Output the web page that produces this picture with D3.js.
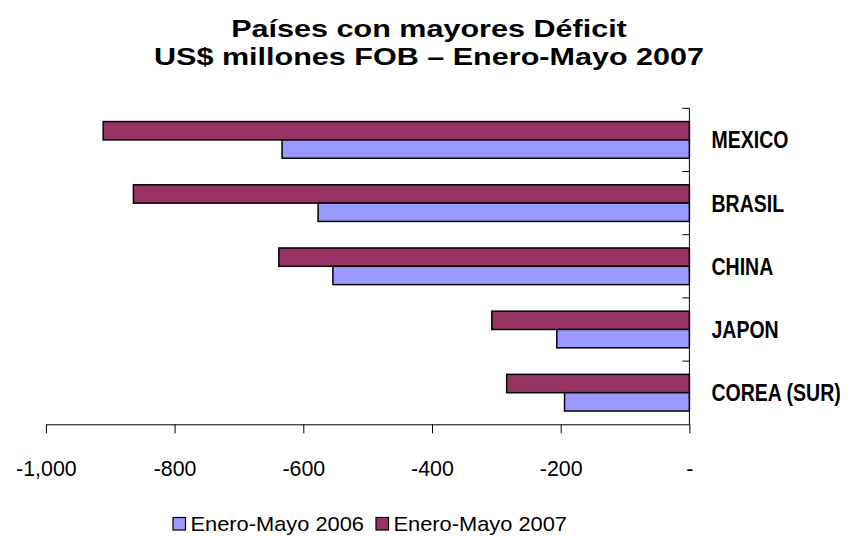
<!DOCTYPE html>
<html><head><meta charset="utf-8">
<script src="https://cdn.jsdelivr.net/npm/d3@7/dist/d3.min.js"></script>
<style>body{margin:0;background:#fff}</style>
</head><body>
<svg id="c" width="853" height="536"></svg>
<script>
const categories = ["MEXICO","BRASIL","CHINA","JAPON","COREA (SUR)"];
const series = ["Enero-Mayo 2006","Enero-Mayo 2007"];
const v2006 = [-633, -577, -554, -206, -194];
const v2007 = [-911, -864, -638, -307, -284];
const xTicks = [-1000,-800,-600,-400,-200,0];
const colors = ["#9999FF","#993366"];
const titleLines = ["Países con mayores Déficit","US$ millones FOB – Enero-Mayo 2007"];

const svg = d3.select("#c");
const font = "'Liberation Sans',Arial,sans-serif";
const x = d3.scaleLinear().domain([-1000,0]).range([45.9,689.4]);
const y = d3.scaleBand().domain(categories).range([108.3,424.3]).paddingInner(0.42).paddingOuter(0.21);
const sub = d3.scaleBand().domain(["2007","2006"]).range([0,y.bandwidth()]);

// title
svg.append("g").selectAll("text").data(titleLines).join("text")
  .attr("transform",(d,i)=>`translate(429,${37+i*27.5}) scale(1.3,1)`)
  .attr("text-anchor","middle")
  .attr("font-family",font).attr("font-weight","bold")
  .attr("font-size",23.5)
  .text(d=>d);

const rows = categories.map((c,i)=>({c, a:v2006[i], b:v2007[i]}));
const g = svg.append("g");
rows.forEach(r=>{
  [["2007",r.b,colors[1]],["2006",r.a,colors[0]]].forEach(([k,v,col])=>{
    g.append("rect").attr("x",x(v)).attr("y",y(r.c)+sub(k))
     .attr("width",x(0)-x(v)).attr("height",sub.bandwidth())
     .attr("fill",col).attr("stroke","#000").attr("stroke-width",1.5);
  });
});

// x axis
const xa = svg.append("g").attr("transform","translate(0,424.3)")
  .call(d3.axisBottom(x).tickValues(xTicks).tickSize(9).tickSizeOuter(0)
    .tickFormat(d=>d===0?"-":"-"+d3.format(",")(-d)));
xa.select(".domain").attr("stroke","#000");
xa.selectAll(".tick line").attr("stroke","#000");
xa.selectAll(".tick text").each(function(){
  const t=d3.select(this);
  t.attr("y",null).attr("dy",null)
   .attr("transform","translate(0,51.5) scale(0.93,1)")
   .attr("font-family",font).attr("font-size",23).attr("fill","#000");
});

// y axis line with band ticks
const yg = svg.append("g");
yg.append("line").attr("x1",x(0)).attr("x2",x(0)).attr("y1",y.range()[0]).attr("y2",y.range()[1]).attr("stroke","#000");
const bnds = categories.map(c=>y(c)-y.step()*y.paddingInner()/2);
bnds.forEach(b=>{
  yg.append("line").attr("x1",x(0)-7).attr("x2",x(0)).attr("y1",b).attr("y2",b).attr("stroke","#000");
});
yg.selectAll("text").data(categories).join("text")
  .attr("transform",c=>`translate(711.5,${y(c)+y.bandwidth()/2+8.5}) scale(0.83,1)`)
  .attr("font-family",font).attr("font-weight","bold").attr("font-size",23.5).text(d=>d);

// legend
const leg = svg.append("g");
const lx = [173, 376];
series.forEach((s,i)=>{
  leg.append("rect").attr("x",lx[i]).attr("y",517.5).attr("width",12.5).attr("height",12.5)
    .attr("fill",colors[i]).attr("stroke","#000").attr("stroke-width",1.2);
  leg.append("text").attr("transform",`translate(${lx[i]+17.5},530.7) scale(1.04,1)`).attr("font-family",font)
    .attr("font-size",21).text(s);
});
</script>
</body></html>
